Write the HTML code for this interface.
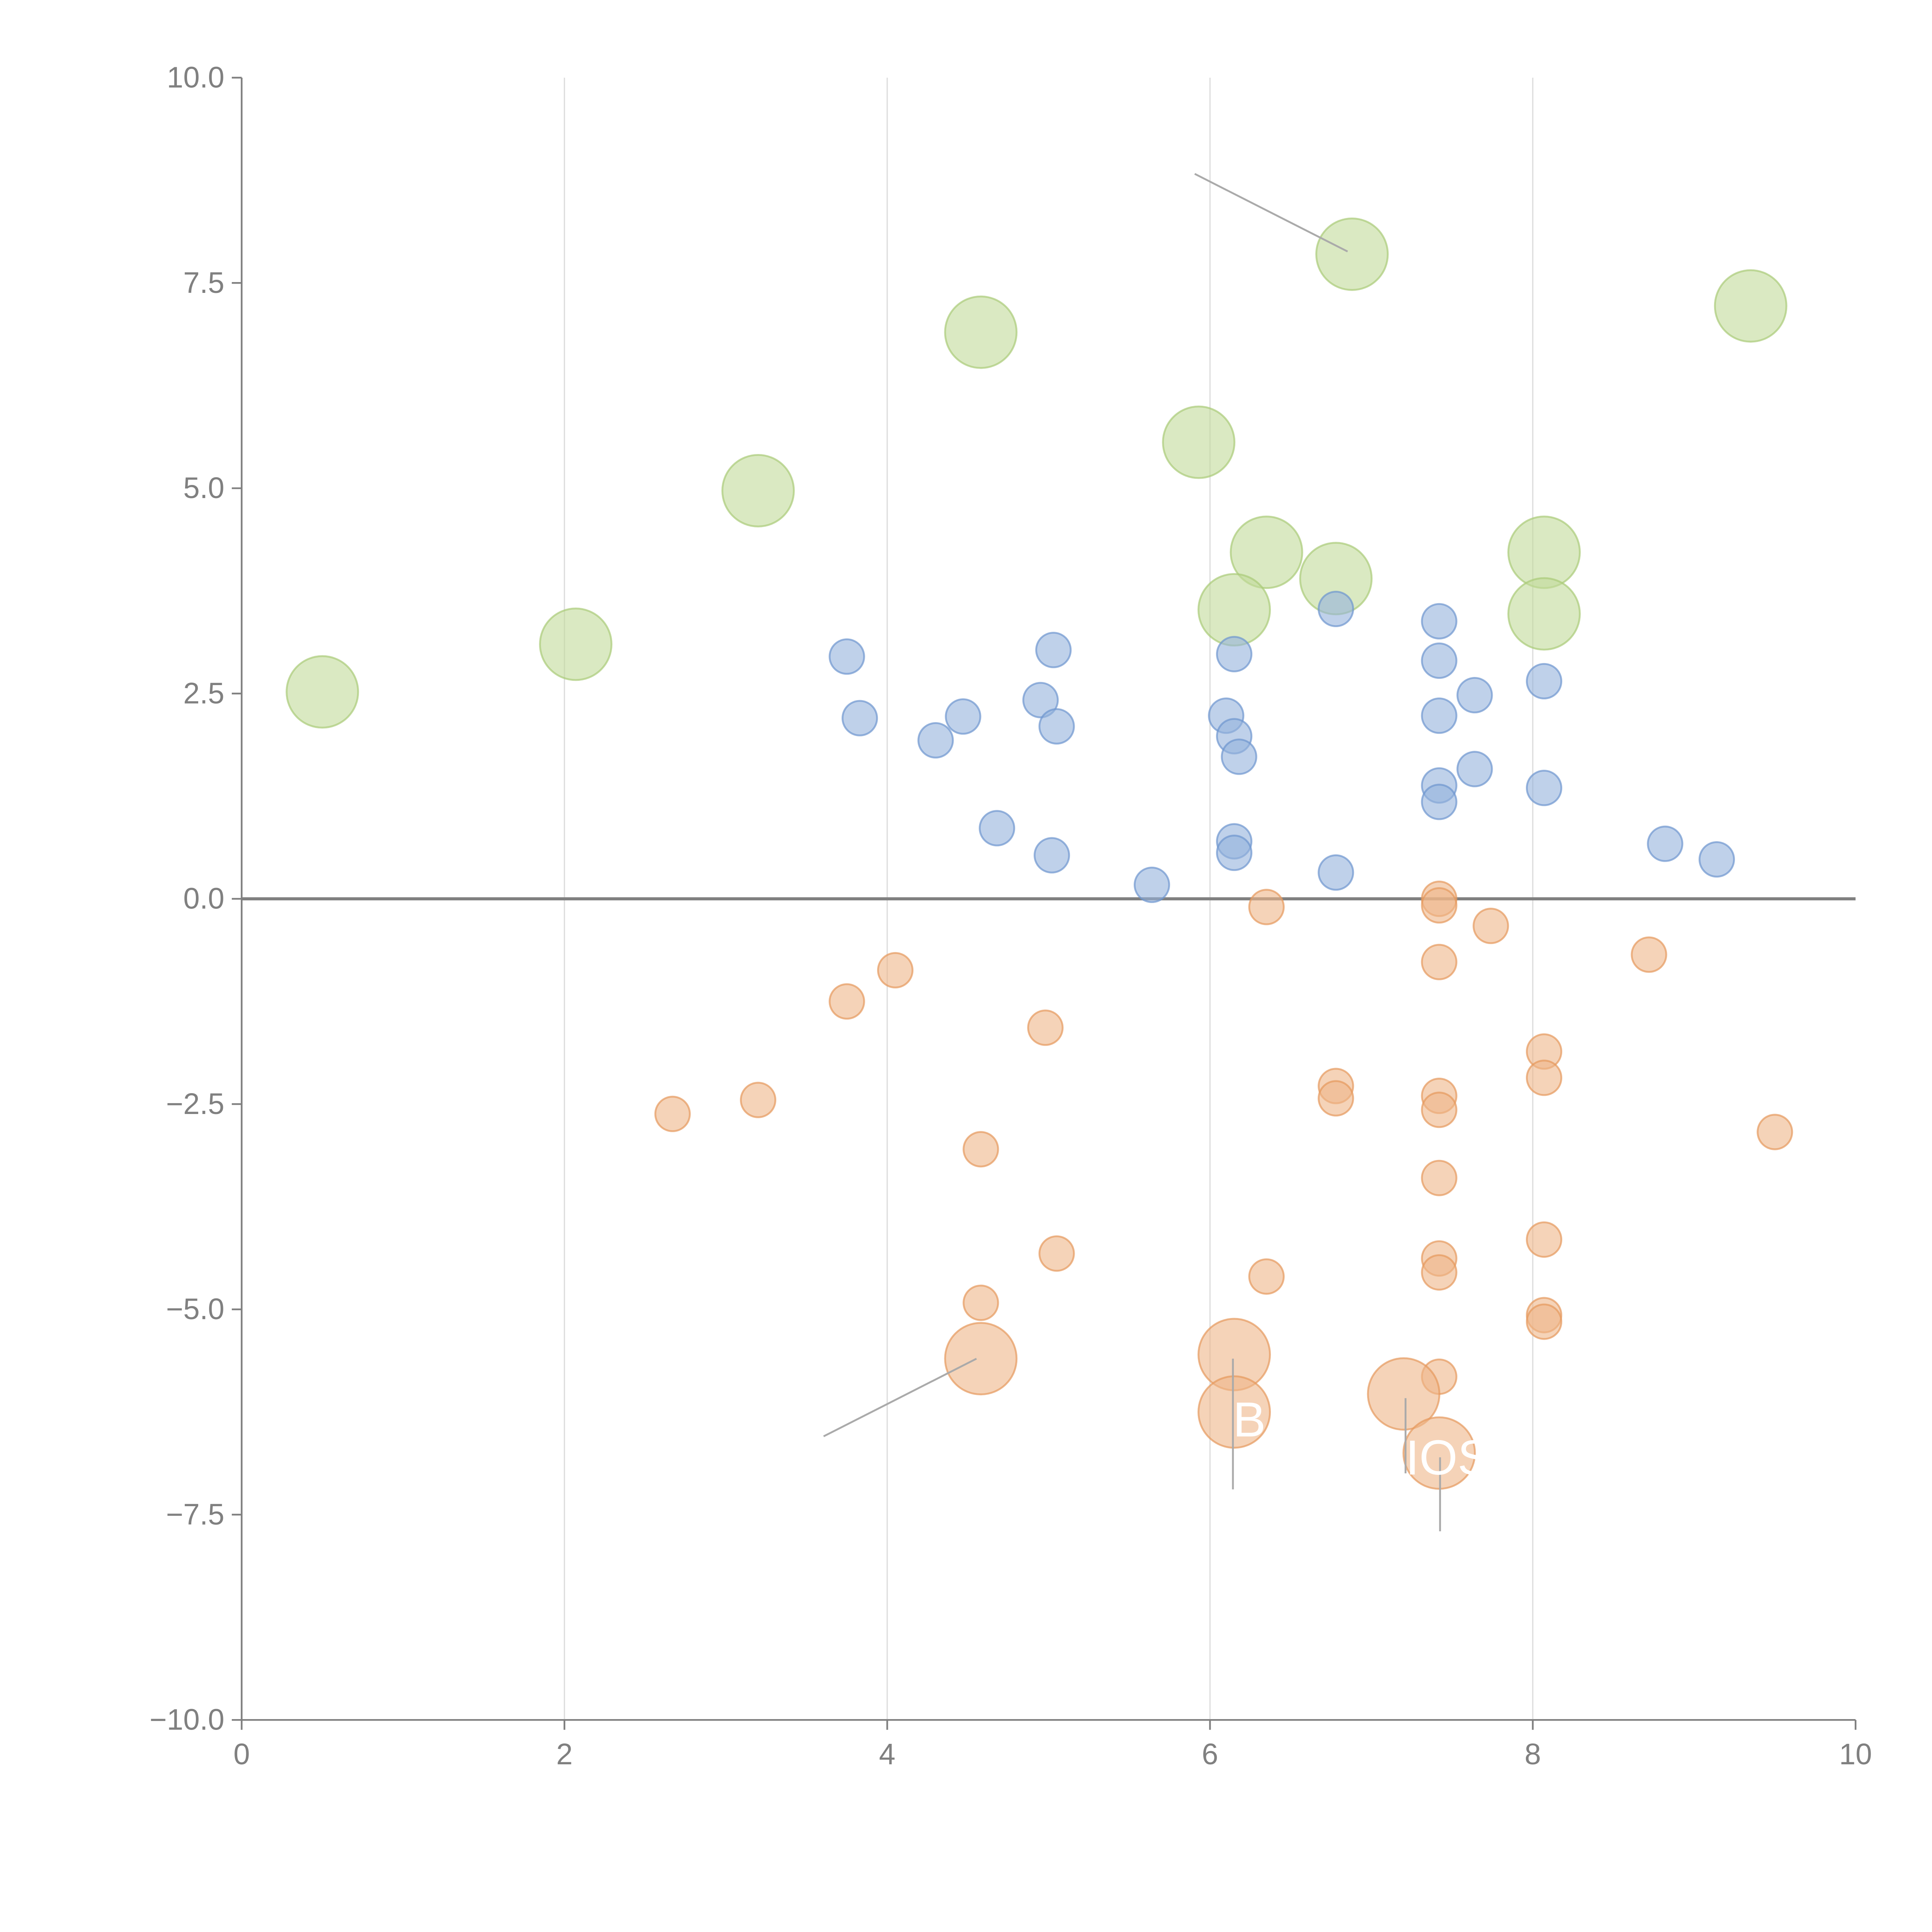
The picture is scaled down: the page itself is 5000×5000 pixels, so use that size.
<!DOCTYPE html>
<html><head><meta charset="utf-8"><style>
html,body{margin:0;padding:0;background:#fff}
svg{display:block}
text{font-family:"Liberation Sans",sans-serif}
</style></head><body>
<svg id="chart" width="5000" height="5000" viewBox="0 0 1567 1567" xmlns="http://www.w3.org/2000/svg">
<g id="grid"></g>
<g id="axes"></g>
<g id="marks"></g>
<g id="annot"></g>
</svg>
<script>
const xTicks=[0,2,4,6,8,10];
const yTicks=[10,7.5,5,2.5,0,-2.5,-5,-7.5,-10];
const greenX=[0.5,2.07,3.2,4.58,5.93,6.35,6.88,6.78,6.15,8.07,8.07,9.35];
const greenY=[2.52,3.1,4.97,6.9,5.56,4.22,7.85,3.9,3.52,4.22,3.47,7.22];
const blueX=[3.75,3.83,4.3,4.47,4.68,4.95,5.03,5.05,5.02,5.64,6.1,6.15,6.15,6.18,6.15,6.15,6.78,6.78,7.42,7.42,7.42,7.42,7.42,7.64,7.64,8.07,8.07,8.82,9.14];
const blueY=[2.95,2.2,1.93,2.22,0.86,2.42,3.03,2.1,0.53,0.17,2.23,2.98,1.98,1.73,0.7,0.56,3.53,0.32,3.38,2.9,2.23,1.38,1.18,2.48,1.58,2.65,1.35,0.67,0.48];
const orangeX=[2.67,3.2,3.75,4.05,4.58,4.58,4.98,5.05,6.35,6.35,6.78,6.78,7.42,7.42,7.42,7.74,7.42,7.42,7.42,7.42,7.42,7.42,8.07,8.07,8.07,8.07,8.07,8.72,9.5];
const orangeY=[-2.62,-2.45,-1.25,-0.87,-3.05,-4.92,-1.57,-4.32,-0.1,-4.6,-2.28,-2.43,0.0,-0.08,-0.77,-0.33,-2.4,-2.57,-3.4,-4.38,-4.55,-5.82,-1.86,-2.18,-4.15,-5.07,-5.15,-0.68,-2.84];
const bigOrangeX=[4.58,6.15,6.15,7.2,7.42];
const bigOrangeY=[-5.6,-5.55,-6.25,-6.03,-6.75];

const NS="http://www.w3.org/2000/svg";
const X0=196,X1=1505,Y0=1395,Y1=63;
const sx=v=>X0+(v-0)/10*(X1-X0);
const sy=v=>Y0-(v+10)/20*(Y0-Y1);
function mk(tag,attrs,parent){const e=document.createElementNS(NS,tag);for(const k in attrs)e.setAttribute(k,attrs[k]);parent.appendChild(e);return e;}
const grid=document.getElementById('grid'),axes=document.getElementById('axes'),marks=document.getElementById('marks'),annot=document.getElementById('annot');

xTicks.forEach(t=>{
  if(t>0&&t<10){const g=mk('line',{x1:sx(t),x2:sx(t),y1:Y1,y2:Y0,stroke:'#dddddd','stroke-width':1},grid);
  
  }
  const tk=mk('line',{x1:sx(t),x2:sx(t),y1:Y0,y2:Y0+8,stroke:'#808080','stroke-width':1.4},axes);
  
  
  const tx=mk('text',{x:sx(t),y:Y0+36,'text-anchor':'middle','font-size':24,fill:'#808080'},axes);
  tx.textContent=String(t);
  
  
});
yTicks.forEach(t=>{
  const tk=mk('line',{x1:X0-8,x2:X0,y1:sy(t),y2:sy(t),stroke:'#808080','stroke-width':1.4},axes);
  
  
  const tx=mk('text',{x:X0-14,y:sy(t)+8,'text-anchor':'end','font-size':24,fill:'#808080'},axes);
  tx.textContent=(t<0?'\u2212':'')+Math.abs(t).toFixed(1);
  
  
});
const ya=mk('line',{x1:X0,x2:X0,y1:Y1,y2:Y0,stroke:'#808080','stroke-width':1.4},axes);


const xa=mk('line',{x1:X0,x2:X1,y1:Y0,y2:Y0,stroke:'#808080','stroke-width':1.4},axes);



function series(xs,ys,r,fill,stroke,name){
  xs.forEach((x,i)=>{
    const c=mk('circle',{cx:sx(x),cy:sy(ys[i]),r:r,fill:fill,'fill-opacity':0.6,stroke:stroke,'stroke-opacity':0.7,'stroke-width':1.5},marks);
    
    
  });
}
series(greenX,greenY,29,'#c2da9a','#a9cb78','green-bubble');
series(blueX,blueY,14,'#94b2dc','#6e96cf','blue-bubble');
series(orangeX,orangeY,14,'#eeb589','#e6995d','orange-bubble');
series(bigOrangeX,bigOrangeY,29,'#eeb589','#e6995d','orange-large-bubble');

const zl=mk('line',{x1:X0,x2:X1,y1:sy(0),y2:sy(0),stroke:'#808080','stroke-width':2.5},axes);



[[969,141,1093,204],[668,1165,792,1102],[1000,1102,1000,1208],[1140,1134,1140,1195],[1168,1182,1168,1242]].forEach(l=>{
  const e=mk('line',{x1:l[0],y1:l[1],x2:l[2],y2:l[3],stroke:'#aaa','stroke-width':1.5},annot);
  
  
});
[['B',1000,1165],['IOS',1140,1196]].forEach(a=>{
  const t=mk('text',{x:a[1],y:a[2],'font-size':40,fill:'#ffffff'},annot);
  t.textContent=a[0];
  
  
});
</script>
</body></html>
